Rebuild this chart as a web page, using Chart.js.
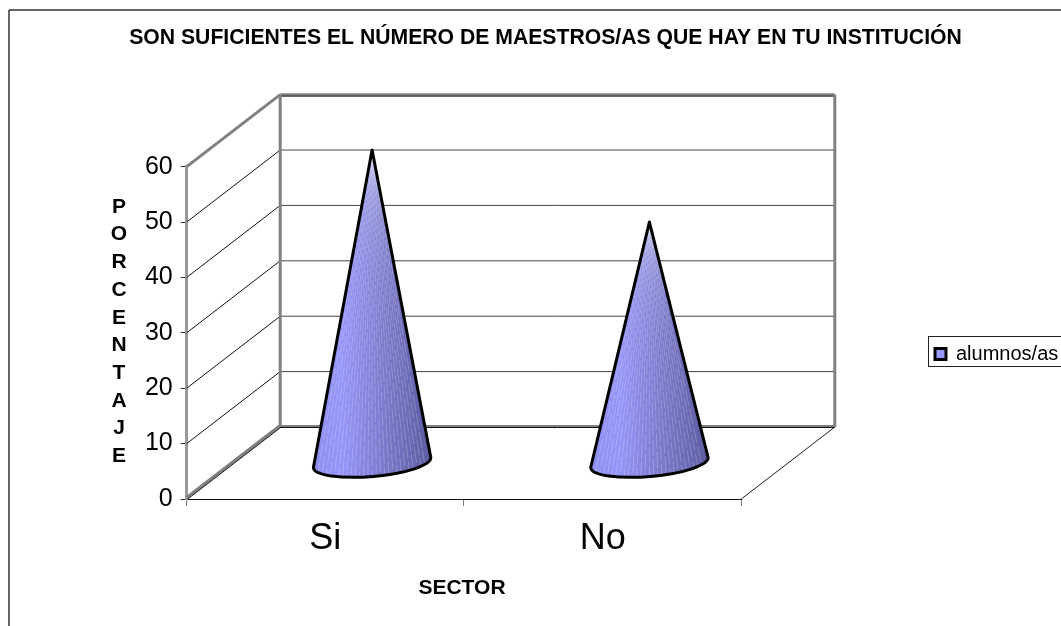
<!DOCTYPE html>
<html>
<head>
<meta charset="utf-8">
<title>Maestros</title>
<script src="https://cdn.jsdelivr.net/npm/chart.js@4"></script>
<style>
  html, body { margin: 0; padding: 0; background: #fff; overflow: hidden; }
  canvas { display: block; }
</style>
</head>
<body>
<canvas id="chart" width="1061" height="626"></canvas>
<script>
// Data
const categories = ["Si", "No"];
const alumnos = [56.5, 43.5];
const yTicks = [0, 10, 20, 30, 40, 50, 60];
const chartTitle = "SON SUFICIENTES EL NÚMERO DE MAESTROS/AS QUE HAY EN TU INSTITUCIÓN";
const yTitleLetters = ["P", "O", "R", "C", "E", "N", "T", "A", "J", "E"];
const xTitle = "SECTOR";
const seriesName = "alumnos/as";

// Fake 3D depth of the plot box
const depthX = 93.5;
const depthY = -72;

function line(ctx, x1, y1, x2, y2, color, width) {
  ctx.beginPath();
  ctx.moveTo(x1, y1);
  ctx.lineTo(x2, y2);
  ctx.strokeStyle = color;
  ctx.lineWidth = width;
  ctx.stroke();
}

// Outer frame, only top and left show in the picture
const framePlugin = {
  id: "frame",
  beforeDraw(chart) {
    const ctx = chart.ctx;
    ctx.save();
    ctx.fillStyle = "#fff";
    ctx.fillRect(0, 0, chart.width, chart.height);
    line(ctx, 9, 10, chart.width, 10, "#333", 1.5);
    line(ctx, 9, 10, 9, chart.height, "#333", 1.5);
    // legend box
    ctx.strokeStyle = "#222";
    ctx.lineWidth = 1;
    ctx.strokeRect(928.5, 336.5, 140, 30);
    ctx.restore();
  }
};

// Walls and floor, hung off the real scales
const wallsPlugin = {
  id: "walls",
  beforeDatasetsDraw(chart) {
    const ctx = chart.ctx;
    const y = chart.scales.y;
    const left = chart.chartArea.left;
    const right = chart.chartArea.right;
    const bottom = y.getPixelForValue(0);
    const top = y.getPixelForValue(60);
    ctx.save();
    yTicks.forEach(t => {
      if (t === 0 || t === 60) return;
      const py = y.getPixelForValue(t);
      line(ctx, left, py, left + depthX, py + depthY, "#111", 1);
      line(ctx, left + depthX, py + depthY, right + depthX, py + depthY, "#444", 1);
    });
    // top edges
    line(ctx, left, top, left + depthX, top + depthY, "#808080", 3);
    line(ctx, left + depthX, top + depthY, right + depthX, top + depthY, "#808080", 3);
    line(ctx, left + depthX, top + depthY + 1.5, right + depthX, top + depthY + 1.5, "#222", 1);
    // back verticals
    line(ctx, left + depthX, top + depthY, left + depthX, bottom + depthY, "#808080", 3);
    line(ctx, right + depthX, top + depthY, right + depthX, bottom + depthY, "#808080", 3);
    // floor
    line(ctx, left + depthX, bottom + depthY - 1, right + depthX, bottom + depthY - 1, "#808080", 2);
    line(ctx, left + depthX, bottom + depthY + 0.5, right + depthX, bottom + depthY + 0.5, "#111", 1);
    line(ctx, left, bottom - 1.5, left + depthX, bottom + depthY - 1.5, "#808080", 3);
    line(ctx, left + 1, bottom, left + depthX + 1, bottom + depthY, "#111", 1);
    line(ctx, right, bottom, right + depthX, bottom + depthY, "#222", 1);
    ctx.restore();
  }
};

// Bars are replaced by cones, using the position the bar controller worked out
const conePlugin = {
  id: "cones",
  beforeDatasetDraw(chart, args) {
    const ctx = chart.ctx;
    const midX = depthX / 2;
    const midY = depthY / 2;
    args.meta.data.forEach(bar => {
      const cx = bar.x + midX;
      const baseY = bar.base + midY;
      const tipY = bar.y + midY;
      const rx = bar.width / 2;
      const ry = 14;
      const tilt = -0.085;
      const lx = cx - rx * Math.cos(tilt);
      const ly = baseY - rx * Math.sin(tilt);

      const shape = () => {
        ctx.beginPath();
        ctx.moveTo(cx, tipY);
        ctx.lineTo(lx, ly);
        ctx.ellipse(cx, baseY, rx, ry, tilt, Math.PI, 0, true);
        ctx.closePath();
      };

      ctx.save();
      shape();
      const grad = ctx.createLinearGradient(cx - rx, 0, cx + rx, 0);
      grad.addColorStop(0, "#8f8ff2");
      grad.addColorStop(0.25, "#9595f8");
      grad.addColorStop(0.6, "#7a7acc");
      grad.addColorStop(1, "#5c5ca2");
      ctx.fillStyle = grad;
      ctx.fill();
      // facets of the cone, broken pale streaks, gaps staggered so they don't form rings
      ctx.clip();
      ctx.setLineDash([16, 3]);
      for (let i = 1; i < 28; i++) {
        const fx = cx - rx + (2 * rx * i) / 28;
        ctx.lineDashOffset = i * 7;
        line(ctx, cx, tipY, fx, baseY + ry, "rgba(255,255,255,0.22)", 1);
      }
      ctx.restore();

      ctx.save();
      shape();
      ctx.strokeStyle = "#000";
      ctx.lineWidth = 3;
      ctx.lineJoin = "round";
      ctx.stroke();
      ctx.restore();
    });
    return false;
  }
};

// Stacked letters of the y title, and the x title which sits off centre
const axisTextPlugin = {
  id: "axisText",
  afterDraw(chart) {
    const ctx = chart.ctx;
    ctx.save();
    ctx.fillStyle = "#000";
    ctx.font = "bold 21px 'Liberation Sans'";
    ctx.textAlign = "center";
    ctx.textBaseline = "middle";
    yTitleLetters.forEach((ch, i) => {
      ctx.fillText(ch, 119, 207 + i * 27.7);
    });
    ctx.fillText(xTitle, 462, 588);
    ctx.restore();
  }
};

// Title and legend do not sit where the layout puts them
const placePlugin = {
  id: "place",
  afterLayout(chart) {
    chart.titleBlock.left = 30;
    chart.titleBlock.right = 1061;
    chart.titleBlock.top = 25;
    chart.legend.left = 928;
    chart.legend.top = 337;
    chart.legend.right = 1061;
    chart.legend.bottom = 370;
  }
};

new Chart(document.getElementById("chart"), {
  type: "bar",
  data: {
    labels: categories,
    datasets: [{
      label: seriesName,
      data: alumnos,
      backgroundColor: "#9999ff",
      borderColor: "#000",
      borderWidth: 3,
      categoryPercentage: 1,
      barPercentage: 0.425
    }]
  },
  options: {
    responsive: false,
    animation: false,
    layout: { padding: { left: 0, right: 319.7, top: 141.2, bottom: 0 } },
    plugins: {
      tooltip: { enabled: false },
      title: {
        display: true,
        text: chartTitle,
        color: "#000",
        font: { family: "Liberation Sans", size: 21.2, weight: "bold" },
        padding: 0
      },
      legend: {
        position: "chartArea",
        align: "start",
        labels: {
          boxWidth: 11,
          boxHeight: 11,
          padding: 7,
          color: "#000",
          font: { family: "Liberation Sans", size: 20 }
        }
      }
    },
    scales: {
      x: {
        afterFit(scale) { scale.height = 127; },
        border: { color: "#111", width: 1 },
        grid: { drawOnChartArea: false, tickLength: 7, color: "#808080" },
        ticks: { color: "#000", font: { family: "Liberation Sans", size: 36 }, padding: 11, maxRotation: 0 }
      },
      y: {
        min: 0,
        max: 60,
        afterFit(scale) { scale.width = 186.7; },
        border: { color: "#999", width: 3 },
        grid: { drawOnChartArea: false, tickLength: 6, color: "#333" },
        afterBuildTicks(scale) { scale.ticks = yTicks.map(v => ({ value: v })); },
        ticks: { color: "#000", font: { family: "Liberation Sans", size: 25 }, padding: 8 }
      }
    }
  },
  plugins: [framePlugin, wallsPlugin, conePlugin, axisTextPlugin, placePlugin]
});
</script>
</body>
</html>
